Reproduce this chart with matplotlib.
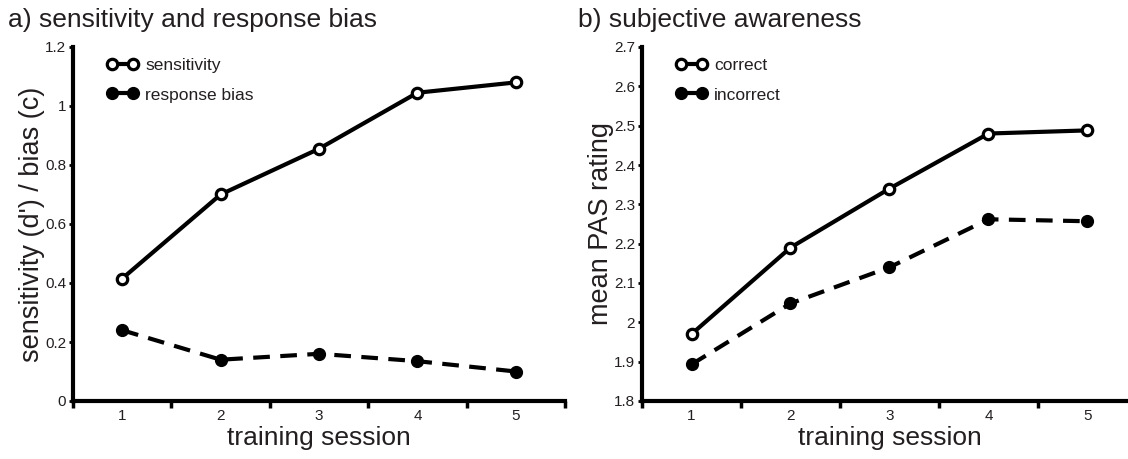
import matplotlib
matplotlib.use("Agg")
import matplotlib.pyplot as plt
from matplotlib.ticker import FixedLocator, NullFormatter

plt.rcParams['font.family'] = ['Liberation Sans', 'DejaVu Sans']

sessions = [1, 2, 3, 4, 5]
sensitivity = [0.415, 0.70, 0.855, 1.045, 1.08]
response_bias = [0.24, 0.14, 0.16, 0.135, 0.10]
pas_correct = [1.97, 2.19, 2.34, 2.48, 2.488]
pas_incorrect = [1.893, 2.048, 2.14, 2.262, 2.257]

left_yticks = [0, 0.2, 0.4, 0.6, 0.8, 1.0, 1.2]
left_yticklabels = ['0', '0.2', '0.4', '0.6', '0.8', '1', '1.2']
right_yticks = [1.8, 1.9, 2.0, 2.1, 2.2, 2.3, 2.4, 2.5, 2.6, 2.7]
right_yticklabels = ['1.8', '1.9', '2', '2.1', '2.2', '2.3', '2.4', '2.5', '2.6', '2.7']

W, H = 1128, 459
fig = plt.figure(figsize=(W / 100, H / 100), dpi=100)

def px_axes(x0, x1, y0, y1):
    return fig.add_axes([x0 / W, 1 - y1 / H, (x1 - x0) / W, (y1 - y0) / H])

ax1 = px_axes(73, 565, 47, 401)
ax2 = px_axes(642, 1137, 47, 401)

txt_col = '#231f20'

def style(ax, ylim, yticks, ylabels, ylabel):
    ax.set_xlim(0.5, 5.5)
    ax.set_ylim(*ylim)
    for s in ['top', 'right']:
        ax.spines[s].set_visible(False)
    for s in ['left', 'bottom']:
        ax.spines[s].set_linewidth(3)
        ax.spines[s].set_color('black')
    ax.set_yticks(yticks)
    ax.set_yticklabels(ylabels, fontsize=11, color=txt_col)
    ax.tick_params(axis='y', length=3, width=2, pad=2)
    ax.set_xticks(sessions)
    ax.set_xticklabels([str(s) for s in sessions], fontsize=11, color=txt_col)
    ax.tick_params(axis='x', which='major', length=0, pad=6)
    ax.xaxis.set_minor_locator(FixedLocator([0.5, 1.5, 2.5, 3.5, 4.5, 5.5]))
    ax.xaxis.set_minor_formatter(NullFormatter())
    ax.tick_params(axis='x', which='minor', length=5, width=2.5, direction='out')
    ax.set_xlabel('training session', fontsize=19, color=txt_col, labelpad=2)
    ax.set_ylabel(ylabel, fontsize=19.5, color=txt_col, labelpad=0)
    for sp in ax.spines.values():
        sp.set_clip_on(False)

def plot_pair(ax, y_solid, y_dash, lab_solid, lab_dash):
    ax.plot(sessions, y_solid, '-', color='black', lw=3, marker='o', ms=7.5,
            mfc='white', mec='black', mew=2.3, label=lab_solid, clip_on=False, zorder=3)
    ax.plot(sessions, y_dash, '--', color='black', lw=3, dashes=(4, 2.5), marker='o', ms=8.5,
            mfc='black', mec='black', mew=1, label=lab_dash, clip_on=False, zorder=3)
    leg = ax.legend(loc='upper left', bbox_to_anchor=(0.055, 0.99), frameon=False,
                    fontsize=12.5, handlelength=1.8, handletextpad=0.4, labelspacing=0.85,
                    numpoints=2, borderaxespad=0)
    for t in leg.get_texts():
        t.set_color(txt_col)

plot_pair(ax1, sensitivity, response_bias, 'sensitivity', 'response bias')
style(ax1, (0, 1.2), left_yticks, left_yticklabels, "sensitivity (d') / bias (c)")

plot_pair(ax2, pas_correct, pas_incorrect, 'correct', 'incorrect')
style(ax2, (1.8, 2.7), right_yticks, right_yticklabels, 'mean PAS rating')

fig.text(8 / W, 1 - 20 / H, 'a) sensitivity and response bias', fontsize=19,
         color=txt_col, va='center', ha='left')
fig.text(578 / W, 1 - 20 / H, 'b) subjective awareness', fontsize=19,
         color=txt_col, va='center', ha='left')

fig.savefig('out.png', dpi=100)
